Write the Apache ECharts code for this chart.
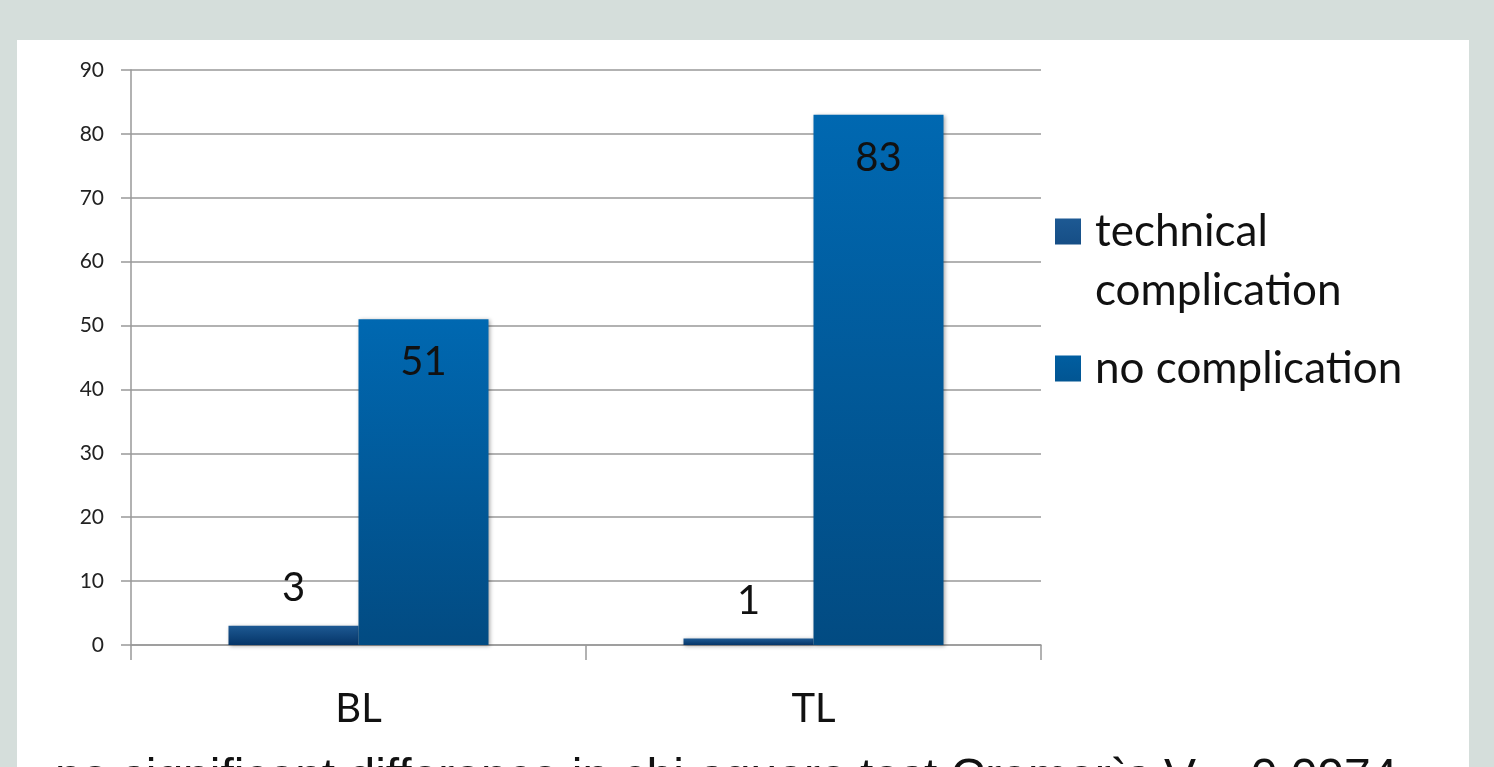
<!DOCTYPE html>
<html>
<head>
<meta charset="utf-8">
<title>Complications by group</title>
<script src="https://cdn.jsdelivr.net/npm/echarts@6/dist/echarts.min.js"></script>
<style>
  html, body { margin: 0; padding: 0; background: #d5dedb; }
  #chart { width: 1494px; height: 767px; }
</style>
</head>
<body>
<div id="chart"></div>
<script>
// Groups on the category axis
const categories = ['BL', 'TL'];
// Counts per group
const technicalComplication = [3, 1];
const noComplication = [51, 83];
// Value axis range
const yMin = 0;
const yMax = 90;
const yStep = 10;
const footnote = 'no significant difference in chi-square test Cramer`s V = 0.0974';

const FONT = 'Lato, "Open Sans", sans-serif';

function vGrad(top, bottom) {
  return new echarts.graphic.LinearGradient(0, 0, 0, 1, [
    { offset: 0, color: top },
    { offset: 1, color: bottom }
  ]);
}

// Legend swatches: a 26px square inside a 35x85 box, so the icon lines up
// with the first text line and the label sits 15px to the right of it.
const swatchTop = 'path://M0,0H26V26H0Z M0,85H35';
const swatchMid = 'path://M0,0H35 M0,29.5H26V55.5H0Z M0,85H35';

const chart = echarts.init(document.getElementById('chart'), null, { renderer: 'canvas' });

const axisGray = '#999999';

chart.setOption({
  backgroundColor: '#d5dedb',
  animation: false,
  graphic: [
    {
      type: 'rect',
      z: -10,
      shape: { x: 17, y: 40, width: 1452, height: 740 },
      style: { fill: '#ffffff' },
      silent: true
    },
    {
      type: 'text',
      left: 55,
      top: 755,
      style: {
        text: footnote,
        font: '48px "Liberation Sans", Arial, sans-serif',
        fill: '#111111'
      },
      silent: true
    }
  ],
  grid: { left: 131, top: 70, width: 910, height: 575, containLabel: false },
  legend: {
    orient: 'vertical',
    left: 1055,
    top: 202,
    padding: 0,
    itemGap: 6,
    itemWidth: 35,
    itemHeight: 85,
    textStyle: {
      fontFamily: FONT,
      fontSize: 44,
      color: '#111111',
      lineHeight: 59
    },
    data: [
      { name: 'technical\ncomplication', icon: swatchTop },
      { name: 'no complication', icon: swatchMid }
    ]
  },
  xAxis: {
    type: 'category',
    data: categories,
    axisLine: { lineStyle: { color: axisGray, width: 1.5 } },
    axisTick: { show: true, length: 15, lineStyle: { color: axisGray, width: 1.5 } },
    axisLabel: { fontFamily: FONT, fontSize: 40, color: '#111111', margin: 44 }
  },
  yAxis: {
    type: 'value',
    min: yMin,
    max: yMax,
    interval: yStep,
    axisLine: { show: true, lineStyle: { color: axisGray, width: 1.5 } },
    axisTick: { show: true, length: 10, lineStyle: { color: axisGray, width: 1.5 } },
    splitLine: { show: true, lineStyle: { color: axisGray, width: 1.5 } },
    axisLabel: { fontFamily: FONT, fontSize: 21, color: '#222222', margin: 27 }
  },
  series: [
    {
      name: 'technical\ncomplication',
      type: 'bar',
      data: technicalComplication,
      barWidth: 130,
      barGap: '0%',
      itemStyle: {
        color: vGrad('#1d5993', '#053568'),
        shadowBlur: 4,
        shadowColor: 'rgba(0,0,0,0.35)',
        shadowOffsetX: 1,
        shadowOffsetY: 1
      },
      label: {
        show: true,
        position: 'top',
        distance: 18,
        fontFamily: FONT,
        fontSize: 40,
        color: '#111111'
      }
    },
    {
      name: 'no complication',
      type: 'bar',
      data: noComplication,
      barWidth: 130,
      barGap: '0%',
      itemStyle: {
        color: vGrad('#0068b1', '#024b82'),
        shadowBlur: 4,
        shadowColor: 'rgba(0,0,0,0.35)',
        shadowOffsetX: 1,
        shadowOffsetY: 1
      },
      label: {
        show: true,
        position: 'insideTop',
        distance: 23,
        fontFamily: FONT,
        fontSize: 40,
        color: '#111111'
      }
    }
  ]
});
</script>
</body>
</html>
